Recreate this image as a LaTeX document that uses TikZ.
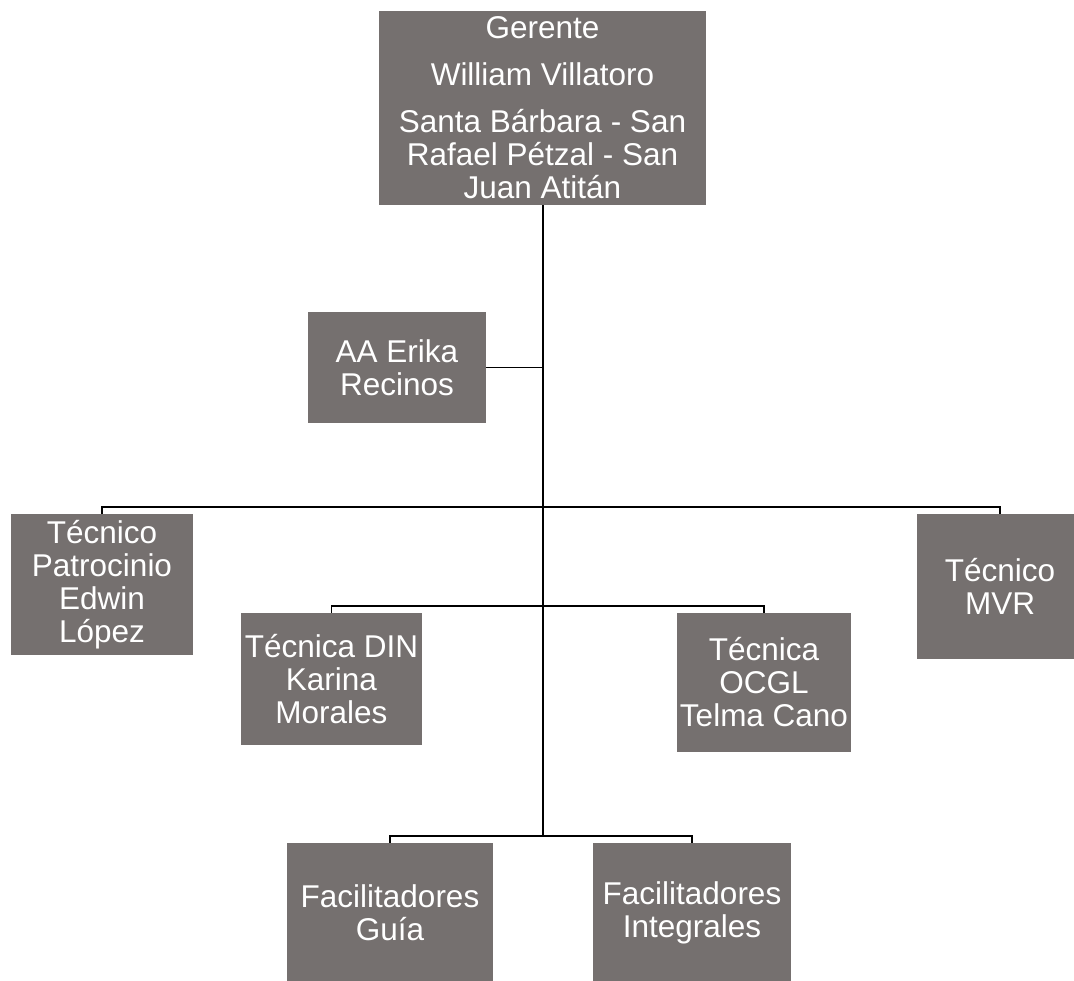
\documentclass[tikz,border=0pt]{standalone}
\usepackage{fontspec}
\setmainfont{Liberation Sans}
\definecolor{boxgray}{RGB}{117,112,111}
\begin{document}
\begin{tikzpicture}[x=1pt, y=-1pt]
            \useasboundingbox (0,0) rectangle (1074,981);
            \begin{scope}[
                    every node/.style={rectangle, fill=boxgray, text=white, align=center,
                        inner sep=1pt, font=\fontsize{31.5}{33}\selectfont}
                ]

                \node[minimum width=327pt, minimum height=194pt] (g) at (542.5,108)
                    {Gerente\\[14pt] William Villatoro\\[14pt] Santa Bárbara - San\\ Rafael Pétzal - San\\ Juan Atitán};
                \node[minimum width=178pt, minimum height=111pt] (aa) at (397,367.5) {AA Erika\\ Recinos};
                \node[minimum width=182pt, minimum height=141pt] (p) at (102,584.5) {Técnico\\ Patrocinio\\ Edwin\\ López};
                \node[minimum width=181pt, minimum height=132pt] (d) at (331.5,679) {Técnica DIN\\ Karina\\ Morales};
                \node[minimum width=174pt, minimum height=139pt] (o) at (764,682.5) {Técnica\\ OCGL\\ Telma Cano};
                \node[minimum width=166pt, minimum height=145pt] (m) at (1000,586.5) {Técnico\\ MVR};
                \node[minimum width=206pt, minimum height=140pt] (fg) at (390,913) {Facilitadores\\ Guía};
                \node[minimum width=198pt, minimum height=140pt] (fi) at (692,913) {Facilitadores\\ Integrales};
            \end{scope}

            \coordinate (j1) at (542.5,507);
            \coordinate (j2) at (542.5,606);
            \coordinate (j3) at (542.5,836);

            \draw[line width=2pt] (g.south) -- (j3);
            \draw[line width=1.3pt] (aa.east) -- (aa.east -| g.south);

            \begin{scope}[line width=1.3pt]
                \draw (p.north) |- (j1) -| (m.north);
                \draw (d.north) |- (j2) -| (o.north);
                \draw (fg.north) |- (j3) -| (fi.north);
            \end{scope}

        \end{tikzpicture}
\end{document}
